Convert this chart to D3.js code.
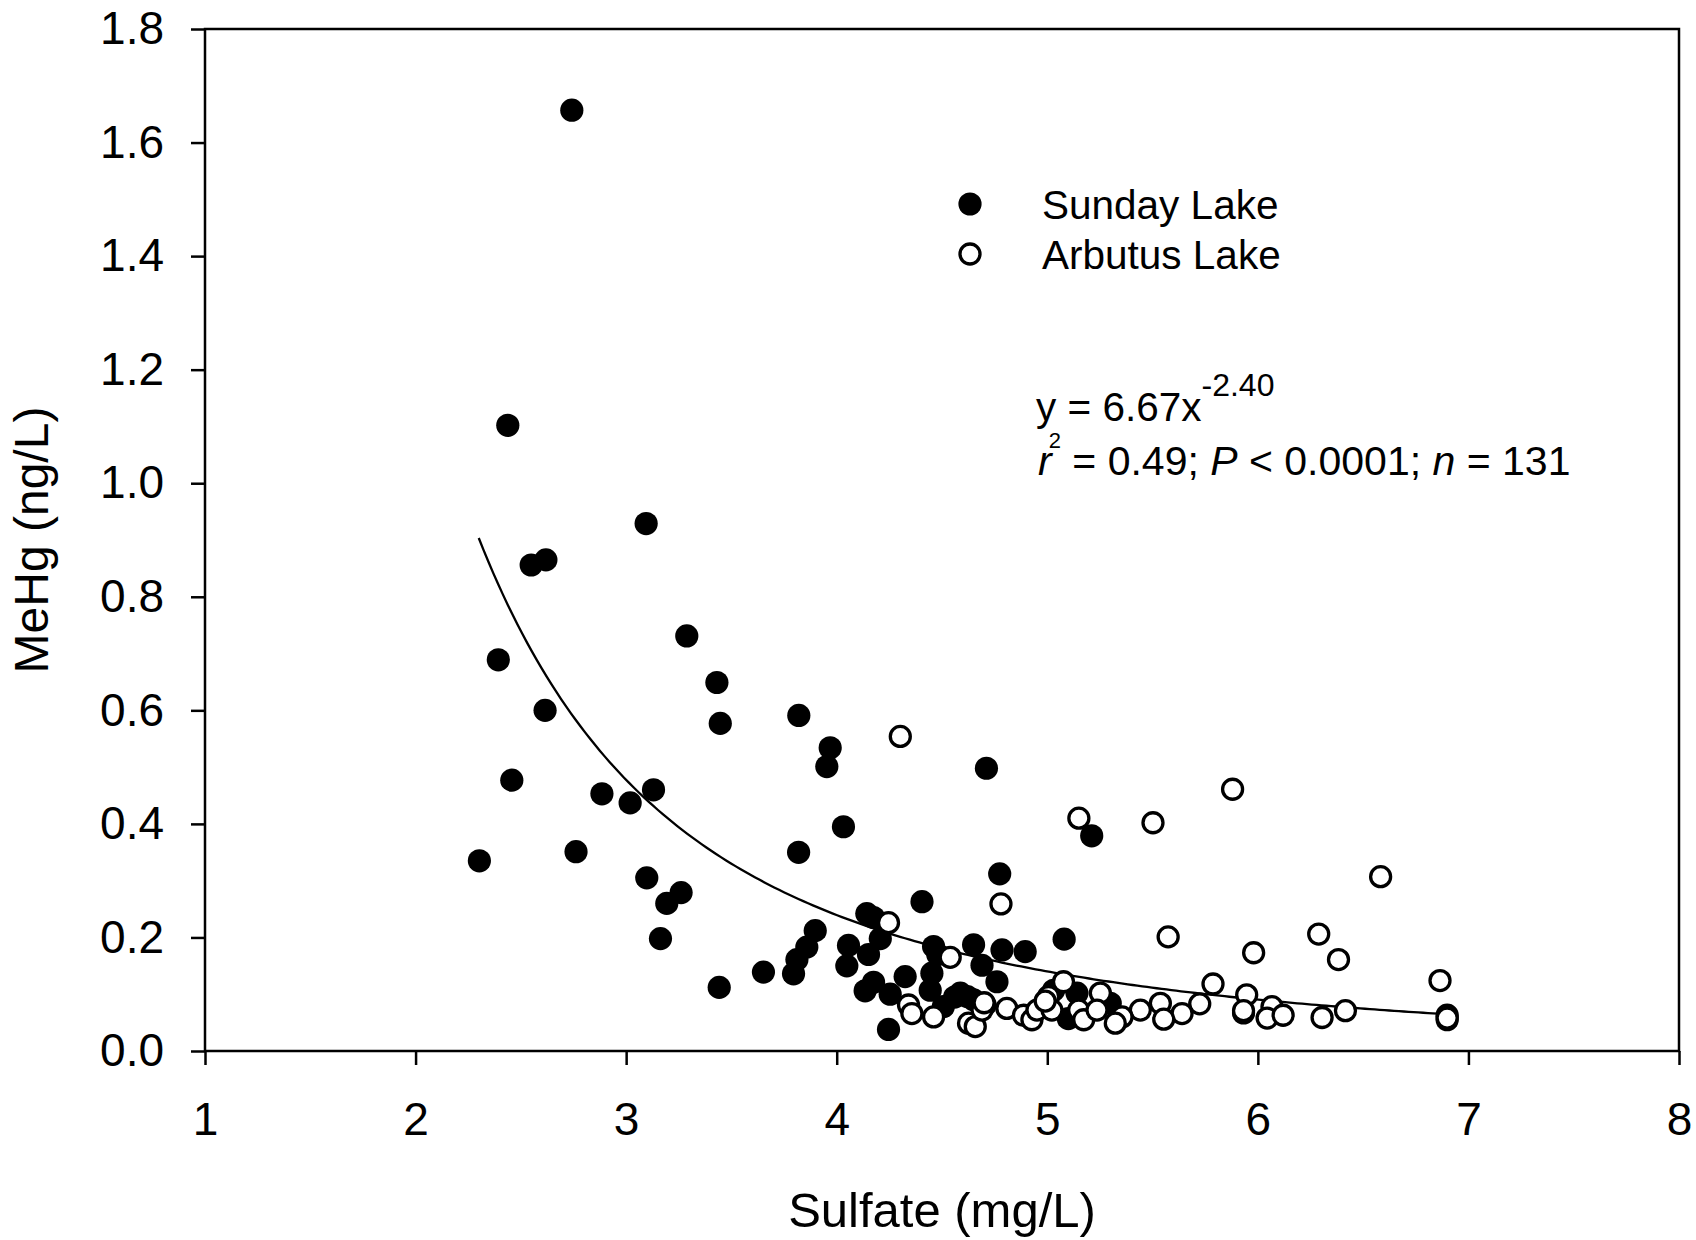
<!DOCTYPE html>
<html>
<head>
<meta charset="utf-8">
<script src="https://cdn.jsdelivr.net/npm/d3@7"></script>
<style>
  html, body { margin: 0; padding: 0; background: #fff; }
  svg { display: block; }
  text { font-family: "Liberation Sans", Arial, Helvetica, sans-serif; fill: #000; }
</style>
</head>
<body>
<svg id="chart" width="1696" height="1240"></svg>
<script>
// ---------------- data ----------------
const xTicks = [1, 2, 3, 4, 5, 6, 7, 8];
const yTicks = [0.0, 0.2, 0.4, 0.6, 0.8, 1.0, 1.2, 1.4, 1.6, 1.8];

const seriesNames = ["Sunday Lake", "Arbutus Lake"];

// Sunday Lake (filled circles): [sulfate, MeHg]
const sundayLake = [
  [2.742,1.657],[2.438,1.102],[3.095,0.929],[2.549,0.856],[2.619,0.865],
  [2.393,0.689],[3.288,0.731],[3.431,0.649],[3.447,0.577],[2.615,0.600],
  [3.820,0.591],[3.969,0.534],[3.953,0.501],[2.457,0.477],[2.885,0.453],
  [3.019,0.437],[3.130,0.460],[4.032,0.395],[2.303,0.335],[2.762,0.351],
  [3.819,0.350],[3.098,0.305],[3.261,0.279],[3.193,0.260],[3.163,0.198],
  [3.442,0.112],[3.652,0.139],[3.795,0.136],[3.811,0.161],[3.858,0.183],
  [3.898,0.212],[4.143,0.242],[4.175,0.235],[4.056,0.186],[4.048,0.150],
  [4.151,0.170],[4.207,0.198],[4.135,0.106],[4.175,0.121],[4.254,0.100],
  [4.246,0.038],[4.405,0.263],[4.711,0.498],[5.211,0.379],[4.774,0.312],
  [5.080,0.197],[4.325,0.131],[4.452,0.137],[4.460,0.184],[4.650,0.187],
  [4.444,0.107],[4.587,0.102],[4.650,0.090],[4.506,0.078],[4.785,0.178],
  [4.895,0.175],[4.690,0.151],[4.761,0.122],[4.620,0.096],[4.705,0.081],
  [5.030,0.107],[5.141,0.102],[5.100,0.057],[5.299,0.084],[5.932,0.067],
  [6.899,0.055],[4.560,0.095],[4.480,0.170]
];

// Arbutus Lake (open circles): [sulfate, MeHg]
const arbutusLake = [
  [4.302,0.554],[5.880,0.461],[5.150,0.410],[5.502,0.402],[6.583,0.307],
  [4.780,0.259],[4.246,0.226],[5.574,0.201],[6.289,0.206],[5.980,0.173],
  [6.383,0.161],[4.539,0.165],[6.865,0.124],[5.787,0.118],[5.077,0.122],
  [5.006,0.096],[5.252,0.102],[5.947,0.099],[5.724,0.083],[5.537,0.084],
  [5.442,0.072],[5.640,0.066],[5.355,0.060],[5.323,0.049],[5.553,0.056],
  [4.808,0.075],[4.887,0.063],[4.927,0.055],[4.951,0.072],[5.022,0.072],
  [5.149,0.072],[5.173,0.055],[5.236,0.072],[5.932,0.071],[6.067,0.078],
  [6.044,0.058],[6.120,0.063],[6.305,0.059],[6.416,0.071],[6.899,0.063],
  [6.899,0.058],[4.341,0.081],[4.357,0.066],[4.460,0.060],[4.626,0.049],
  [4.658,0.043],[4.690,0.072],[4.700,0.085],[4.990,0.088]
];

// Power-law fit printed on the chart: y = a * x^b over the data range
const fitA = 6.67, fitB = -2.40;
const fitRange = [2.30, 6.90];

// ---------------- layout ----------------
const svg = d3.select("#chart");
const pLeft = 205, pRight = 1679, pTop = 29, pBottom = 1051;
const FONT = '"Liberation Sans", Arial, Helvetica, sans-serif';

const x = d3.scaleLinear().domain([1, 8]).range([pLeft, pRight]);
const y = d3.scaleLinear().domain([0, 1.8]).range([pBottom, pTop]);

// frame
svg.append("rect")
  .attr("x", pLeft).attr("y", pTop)
  .attr("width", pRight - pLeft).attr("height", pBottom - pTop)
  .attr("fill", "none").attr("stroke", "#000").attr("stroke-width", 2.5);

// y axis
const yAxis = svg.append("g").attr("transform", `translate(${pLeft},0)`)
  .call(d3.axisLeft(y).tickValues(yTicks).tickFormat(d3.format(".1f"))
    .tickSize(14).tickSizeOuter(0).tickPadding(27));
yAxis.select(".domain").remove();
yAxis.selectAll(".tick line").attr("stroke", "#000").attr("stroke-width", 2.5);
yAxis.selectAll(".tick text").attr("font-size", 46).attr("font-family", FONT).attr("fill", "#000");

// x axis
const xAxis = svg.append("g").attr("transform", `translate(0,${pBottom})`)
  .call(d3.axisBottom(x).tickValues(xTicks).tickFormat(d3.format("d"))
    .tickSize(14).tickSizeOuter(0).tickPadding(37));
xAxis.select(".domain").remove();
xAxis.selectAll(".tick line").attr("stroke", "#000").attr("stroke-width", 2.5);
xAxis.selectAll(".tick text").attr("font-size", 46).attr("font-family", FONT).attr("fill", "#000");

// axis titles
svg.append("text")
  .attr("x", (pLeft + pRight) / 2).attr("y", 1227)
  .attr("text-anchor", "middle").attr("font-size", 49)
  .text("Sulfate (mg/L)");
svg.append("text")
  .attr("transform", `translate(48,${(pTop + pBottom) / 2}) rotate(-90)`)
  .attr("text-anchor", "middle").attr("font-size", 48)
  .text("MeHg (ng/L)");

// fit curve
const fitPts = d3.range(0, 201).map(i => {
  const xv = fitRange[0] + (fitRange[1] - fitRange[0]) * i / 200;
  return [xv, fitA * Math.pow(xv, fitB)];
});
svg.append("path")
  .datum(fitPts)
  .attr("fill", "none").attr("stroke", "#000").attr("stroke-width", 2.3)
  .attr("d", d3.line().x(d => x(d[0])).y(d => y(d[1])));

// points
svg.append("g").selectAll("circle").data(sundayLake).join("circle")
  .attr("cx", d => x(d[0])).attr("cy", d => y(d[1]))
  .attr("r", 11.6).attr("fill", "#000");
svg.append("g").selectAll("circle").data(arbutusLake).join("circle")
  .attr("cx", d => x(d[0])).attr("cy", d => y(d[1]))
  .attr("r", 10).attr("fill", "#fff").attr("stroke", "#000").attr("stroke-width", 3.3);

// legend
const lg = svg.append("g");
lg.append("circle").attr("cx", 970).attr("cy", 204).attr("r", 11.6).attr("fill", "#000");
lg.append("circle").attr("cx", 970).attr("cy", 254).attr("r", 10)
  .attr("fill", "#fff").attr("stroke", "#000").attr("stroke-width", 3.3);
lg.append("text").attr("x", 1042).attr("y", 219).attr("font-size", 40.5).text(seriesNames[0]);
lg.append("text").attr("x", 1042).attr("y", 269).attr("font-size", 40.5).text(seriesNames[1]);

// equation
const eq = svg.append("text").attr("x", 1036).attr("y", 421).attr("font-size", 40.5);
eq.append("tspan").text("y = " + fitA.toFixed(2) + "x");
eq.append("tspan").attr("font-size", 32).attr("dy", -25).text(fitB.toFixed(2));

const st = svg.append("text").attr("x", 1038).attr("y", 475).attr("font-size", 41);
st.append("tspan").attr("font-style", "italic").text("r");
st.append("tspan").attr("font-size", 22).attr("dx", -3).attr("dy", -27).text("2");
st.append("tspan").attr("dy", 27).attr("font-size", 41).text(" = 0.49; ");
st.append("tspan").attr("font-style", "italic").text("P");
st.append("tspan").text(" < 0.0001; ");
st.append("tspan").attr("font-style", "italic").text("n");
st.append("tspan").text(" = 131");
</script>
</body>
</html>
